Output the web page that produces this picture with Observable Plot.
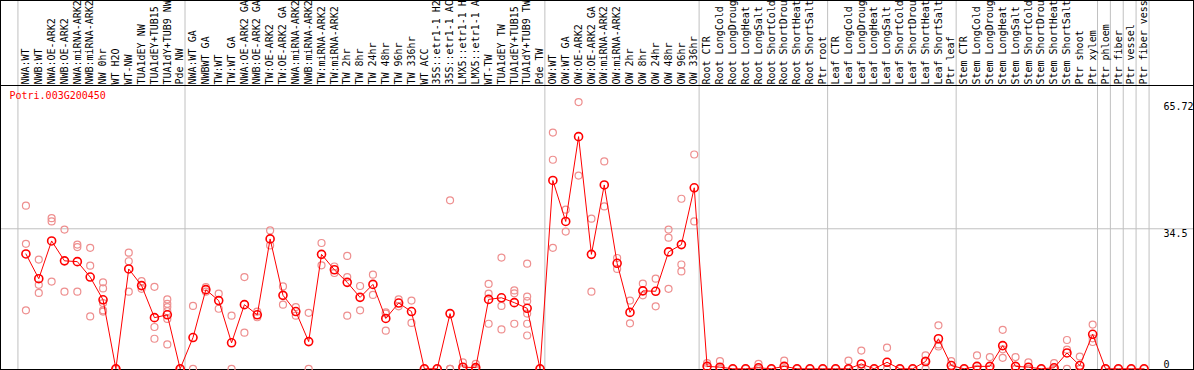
<!DOCTYPE html>
<html><head><meta charset="utf-8">
<script src="https://cdn.jsdelivr.net/npm/d3@7"></script>
<script src="https://cdn.jsdelivr.net/npm/@observablehq/plot@0.6"></script>
<style>body{margin:0;background:#fff}</style>
</head><body><div id="chart"></div>
<script>
const geneId = "Potri.003G200450";
const samples = [
"NWA:WT","NWB:WT","NWA:OE-ARK2","NWB:OE-ARK2","NWA:miRNA-ARK2","NWB:miRNA-ARK2","NW 0hr","WT H2O","WT-NW","TUA1dEY NW","TUA1dEY+TUB15 NW","TUA1dY+TUB9 NW","Pde NW",
"NWA:WT GA","NWBWT GA","TW:WT","TW:WT GA","NWA:OE-ARK2 GA","NWB:OE-ARK2 GA","TW:OE-ARK2","TW:OE-ARK2 GA","NWA:miRNA-ARK2 GA","NWB:miRNA-ARK2 GA","TW:miRNA-ARK2","TW:miRNA-ARK2 GA","TW 2hr","TW 8hr","TW 24hr","TW 48hr","TW 96hr","TW 336hr","WT ACC","35S::etr1-1 H2O","35S::etr1-1 ACC","LMX5::etr1-1 H2O","LMX5::etr1-1 ACC","WT-TW","TUA1dEY TW","TUA1dEY+TUB15 TW","TUA1dY+TUB9 TW","Pde TW",
"OW:WT","OW:WT GA","OW:OE-ARK2","OW:OE-ARK2 GA","OW:miRNA-ARK2","OW:miRNA-ARK2 GA","OW 2hr","OW 8hr","OW 24hr","OW 48hr","OW 96hr","OW 336hr",
"Root CTR","Root LongCold","Root LongDrought","Root LongHeat","Root LongSalt","Root ShortCold","Root ShortDrought","Root ShortHeat","Root ShortSalt","Ptr root",
"Leaf CTR","Leaf LongCold","Leaf LongDrought","Leaf LongHeat","Leaf LongSalt","Leaf ShortCold","Leaf ShortDrought","Leaf ShortHeat","Leaf ShortSalt","Ptr leaf",
"Stem CTR","Stem LongCold","Stem LongDrought","Stem LongHeat","Stem LongSalt","Stem ShortCold","Stem ShortDrought","Stem ShortHeat","Stem ShortSalt","Ptr shoot","Ptr xylem",
"Ptr phloem","Ptr fiber","Ptr vessel","Ptr fiber vessel"
];
const means = [
28.3,22.2,31.5,26.6,26.4,22.6,17.0,0,24.6,20.5,12.6,13.3,0,
7.7,19.5,16.8,6.4,15.8,13.3,32.0,18.1,14.1,6.7,28.2,24.4,21.3,17.6,20.8,12.4,16.2,14.1,0,0,13.6,0.4,0.3,17.1,17.5,16.3,14.9,0,
46.4,36.3,57.2,28.2,45.3,26.0,13.9,19.2,19.1,28.8,30.6,44.6,
0.6,0.4,0,0,0.25,0,0.6,0,0,0,
0,0,1.2,0,1.6,0,0,1.8,7.4,0.8,
0,0.6,0.6,5.7,0.6,0.4,0,0.25,3.9,0.8,8.5,
0,0,0,0
].slice(0);
const replicates = [
[40.2,30.8,14.4],[26.9,20.7,18.7],[37.1,36.3,21.5],[34.3,19.0],[30.6,30.0,19.0],[29.8,25.4,12.9],[21.3,19.8,16.2,14.4,14.1],[0,0],[28.6,26.5,19.0],[21.6,19.7],[20.2,10.3,7.4],[17.1,16.0,15.2,14.2,12.3,6.0],[0,0],
[15.5,0],[20.1,19.0],[18.5,14.8],[13.1,0],[22.6,8.9],[14.1,12.7],[34.1,30.4],[20.3,15.8],[15.2,13.1],[13.8,0],[31.0,25.5],[25.2,23.6],[27.8,22.6,13.1],[20.4,14.4],[23.2,18.2],[13.9,13.6,9.4],[17.1,15.4],[16.8,11.3],[0],[0],[41.5,0,0],[1.6,0,0],[1.2,0,0],[20.9,18.5,11.1],[27.4,15.5,9.7],[19.3,18.6,11.1],[25.9,17.8,16.7,13.6,11.1,8.2],[0],
[58.2,51.5,29.8],[39.2,33.8],[65.72,47.6],[37.0,19.0],[51.1,40.0],[27.3,24.6],[16.8,11.2],[21.0,18.1],[22.2,15.4],[34.3,32.3,19.7],[41.9,25.7,24.0],[52.8,36.3],
[1.4,0.2],[1.9,0,0],[0],[0],[1.2,0,0],[0],[2.0,0,0],[0],[0],[0],
[0],[2.0,0,0],[4.5,0,0],[0],[5.2,0,0],[0],[0],[3.3,2.0,0],[10.7,6.0,5.5],[1.9,0],
[0],[3.3,0,0],[2.9,0,0],[9.6,4.8,2.7],[2.9,0,0],[1.6,0,0],[0],[1.4,0,0],[7.1,4.7,0],[3.0,0,0],[10.9,7.5,6.6],
[0],[0],[0],[0]
];
const yTicks = [0, 34.5, 65.72];
const yGrid = [34.5];
const yTop = 69.8;
const groupStarts = ["NWA:WT","NWA:WT GA","OW:WT","Root CTR","Leaf CTR","Stem CTR","Ptr phloem","Ptr fiber","Ptr vessel","Ptr fiber vessel"];
const groupEnd = [samples[samples.length - 1]];

const meanData = samples.map((s, i) => ({sample: s, value: means[i]}));
const repData = samples.flatMap((s, i) => replicates[i].map(v => ({sample: s, value: v})));

const chart = Plot.plot({
  width: 1194, height: 370,
  marginTop: 0, marginLeft: 0, marginRight: 1, marginBottom: 1,
  style: {fontFamily: "'DejaVu Sans Mono', monospace", fontSize: "10px", background: "white", color: "black"},
  x: {type: "point", domain: samples, range: [19, 1150], axis: null},
  y: {domain: [0, yTop], range: [368.3, 85], axis: null},
  marks: [
    Plot.ruleX(groupStarts, {x: d => d, dx: -8, stroke: "#c0c0c0", strokeOpacity: 1}),
    Plot.ruleX(groupEnd, {x: d => d, dx: 5, stroke: "#c0c0c0", strokeOpacity: 1}),
    Plot.ruleY(yGrid, {y: d => d, stroke: "#c0c0c0", strokeOpacity: 1}),
    Plot.ruleY([yTop], {y: d => d, stroke: "black"}),
    Plot.frame({stroke: "black"}),
    Plot.text(samples, {x: d => d, text: d => d, frameAnchor: "top", dy: 84, rotate: -90, textAnchor: "start", lineAnchor: "middle", fill: "black"}),
    Plot.text([geneId], {text: d => d, frameAnchor: "top-left", dx: 9, dy: 91, textAnchor: "start", lineAnchor: "top", fill: "red"}),
    Plot.text(yTicks.filter(d => d > 0), {y: d => d, text: d => String(d), frameAnchor: "right", dx: -30, textAnchor: "start", lineAnchor: "top", dy: 1, fill: "black"}),
    Plot.text(yTicks.filter(d => d === 0), {y: d => d, text: d => String(d), frameAnchor: "right", dx: -30, textAnchor: "start", lineAnchor: "bottom", dy: -1, fill: "black"}),
    Plot.dot(repData, {x: "sample", y: "value", r: 3.5, stroke: "#ee8f8f", strokeWidth: 1.2}),
    Plot.line(meanData, {x: "sample", y: "value", stroke: "#ff0000", strokeWidth: 1}),
    Plot.dot(meanData, {x: "sample", y: "value", r: 4, stroke: "#ff0000", strokeWidth: 1.6})
  ]
});
document.getElementById("chart").appendChild(chart);
</script>
</body></html>
